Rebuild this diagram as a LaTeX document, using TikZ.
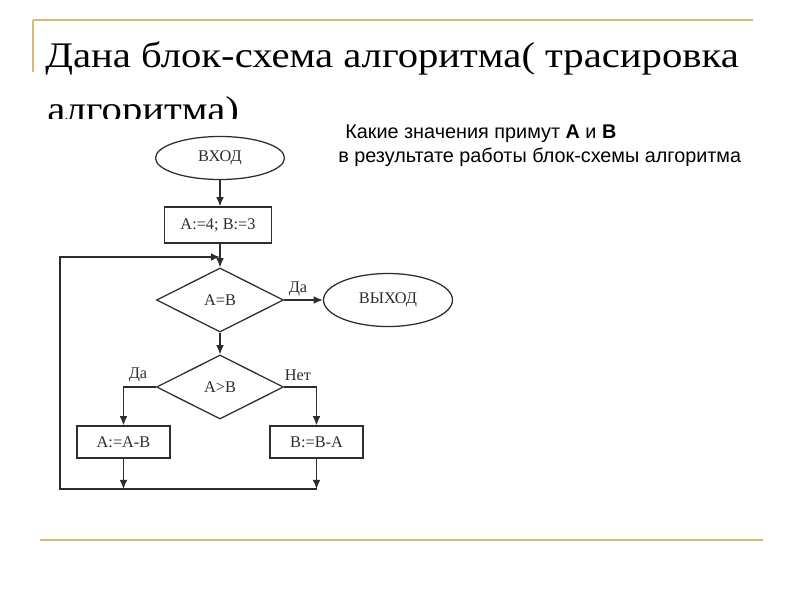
\documentclass[tikz,border=0pt]{standalone}
\usepackage{fontspec}
\setmainfont{Liberation Serif}
\newfontfamily\titlefont[FakeStretch=1.13]{Liberation Serif}
\newfontfamily\questfont{Liberation Sans}
\usetikzlibrary{arrows.meta, shapes.geometric}
\definecolor{gold}{RGB}{214,186,112}
\definecolor{ink}{RGB}{45,45,45}

\begin{document}
\begin{tikzpicture}[x=0.025cm, y=-0.025cm,
  every node/.style={font=\fontsize{11.6}{13}\selectfont, text=ink, inner sep=0pt},
  title/.style={font=\titlefont\fontsize{25.6}{30}\selectfont, text=black},
  quest/.style={font=\questfont\fontsize{14.1}{17}\selectfont, text=black},
  block/.style={draw=ink, line width=0.9pt},
  term/.style={ellipse, draw=ink, line width=0.9pt},
  cond/.style={diamond, aspect=2, draw=ink, line width=0.9pt, minimum width=3.175cm, minimum height=1.6cm},
  arr/.style={draw=ink, line width=0.9pt, -{Latex[length=6.5pt, width=5.5pt]}},
  rule/.style={draw=gold, line width=1.8pt}
]
\useasboundingbox (0,0) rectangle (800,600);

% slide frame
\draw[rule] (33,20) -- (753,20);
\draw[rule] (33,20) -- (33,72);
\draw[rule] (40,540) -- (763,540);

% title, cut off under the picture
\begin{scope}
\clip (0,0) rectangle (800,118);
\node[title, anchor=base west] (title1) at (45,67) {Дана блок-схема алгоритма( трасировка};
\node[title, anchor=base west] (title2) at (47,121) {алгоритма)};
\end{scope}

% question
\node[quest, anchor=base west] (q1) at (345,138) {Какие значения примут \textbf{A} и \textbf{B}};
\node[quest, anchor=base west] (q2) at (338,162) {в результате работы блок-схемы алгоритма};

% flowchart
\node[term, minimum width=3.225cm, minimum height=1.075cm] (entry) at (220,158) {ВХОД};
\node[block, minimum width=2.675cm, minimum height=0.9cm] (init) at (218,225) {A:=4; B:=3};
\node[cond] (eq) at (220,300) {A=B};
\node[term, minimum width=3.225cm, minimum height=1.325cm] (exit) at (388,300) {ВЫХОД};
\node[cond] (gt) at (220,387) {A>B};
\node[block, minimum width=2.325cm, minimum height=0.8cm] (subA) at (123.5,442) {A:=A-B};
\node[block, minimum width=2.325cm, minimum height=0.8cm] (subB) at (316.5,442) {B:=B-A};

\node (yes1) at (298,289) {Да};
\node (yes2) at (138,375) {Да};
\node (no2) at (298,375) {Нет};

\coordinate (jA) at (123.5,489);
\coordinate (jB) at (316.5,489);
\coordinate (back) at (60,489);
\coordinate (up) at (60,257);
\coordinate (merge) at (220,257);

\draw[arr] (entry) -- (entry |- init.north);
\draw[arr] (init.south -| eq) -- (eq);
\draw[arr] (eq) -- (exit);
\draw[arr] (eq) -- (gt);
\draw[arr] (gt.west) -| (subA);
\draw[arr] (gt.east) -| (subB);
\draw[arr] (subA) -- (jA);
\draw[arr] (subB) -- (jB);
\draw[arr] (jB) -- (back) -- (up) -- (merge);
\end{tikzpicture}
\end{document}
